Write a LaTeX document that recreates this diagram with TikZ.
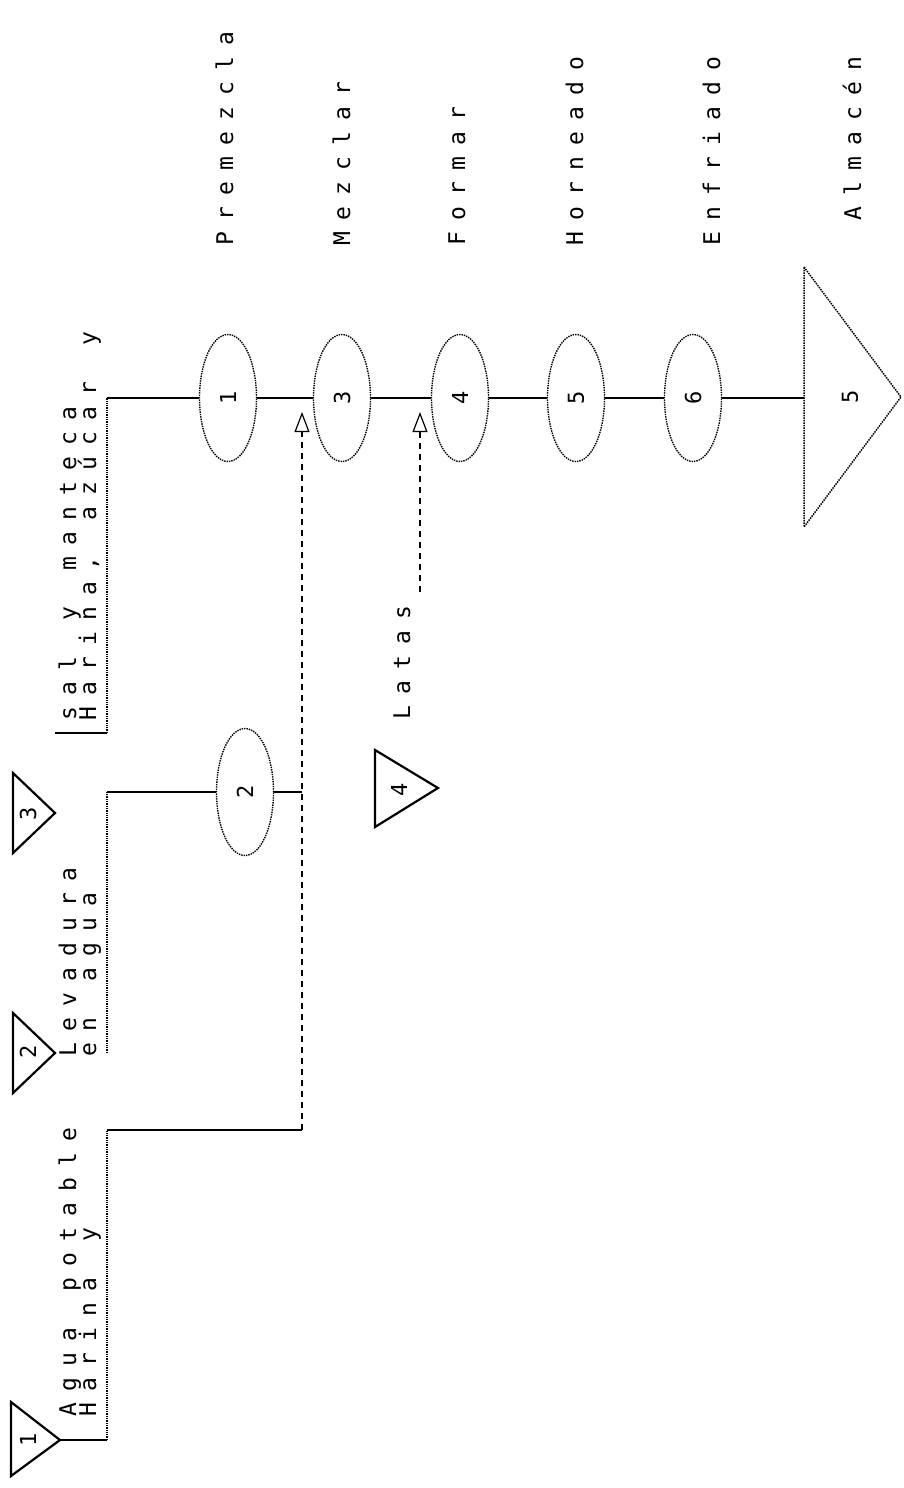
\documentclass[tikz,border=0pt]{standalone}
\usepackage{fontspec}
\usetikzlibrary{shapes.geometric,arrows.meta}
\newfontfamily\chartfont{DejaVu Sans Mono}
\newcommand\chartspaced[1]{\chartspacedi#1\relax}
\def\chartspacedi#1{\ifx#1\relax\else\makebox[25pt][c]{#1}\expandafter\chartspacedi\fi}
\tikzset{
  mainline/.style={line width=1.7pt},
  faint/.style={line width=1.3pt, densely dotted},
  dashline/.style={line width=1.2pt, dash pattern=on 6pt off 5pt},
  arr/.style={-{Triangle[open,length=20pt,width=15pt,line width=1.2pt]}},
  opnode/.style={ellipse, draw, line width=1.4pt, densely dotted, minimum width=57pt, minimum height=127pt, inner sep=0pt, font=\chartfont\fontsize{22}{22}\selectfont},
  numlbl/.style={inner sep=0pt, font=\chartfont\fontsize{22}{22}\selectfont},
  lbl/.style={rotate=90, anchor=base west, inner sep=0pt, font=\chartfont\fontsize{23}{23}\selectfont},
  tri/.style={line width=2.2pt, line join=miter},
  faintri/.style={line width=1.5pt, densely dotted}
}
\begin{document}
\begin{tikzpicture}[x=1pt,y=-1pt]
\useasboundingbox (0,0) rectangle (903,1488);
\fill[white] (0,0) rectangle (903,1488);

% operations on main line
\node[opnode] (e1) at (228,398) {\rotatebox{90}{1}};
\node[opnode] (e3) at (342,398) {\rotatebox{90}{3}};
\node[opnode] (e4) at (460,398) {\rotatebox{90}{4}};
\node[opnode] (e5) at (576,398) {\rotatebox{90}{5}};
\node[opnode] (e6) at (693,398) {\rotatebox{90}{6}};
\node[opnode] (e2) at (245,792) {\rotatebox{90}{2}};

% coordinates
\coordinate (s1) at (107,398);
\coordinate (s2) at (107,792);
\coordinate (s3) at (107,1130);
\coordinate (j2) at (302,792);
\coordinate (j3) at (302,1130);
\coordinate (a3) at (302,412);
\coordinate (a4) at (420,412);
\coordinate (la) at (420,592);
\coordinate (fA) at (55,733);
\coordinate (bA) at (107,733);
\coordinate (bB) at (107,1053);
\coordinate (bC) at (107,1440);
\coordinate (t5w) at (804,398);

% storages
\draw[tri] (11,1402) -- (60,1440) coordinate (t1) -- (11,1476) -- cycle;
\node[numlbl] (n1) at (28,1440) {\rotatebox{90}{1}};
\draw[tri] (13,1013) -- (55,1053) coordinate (t2) -- (13,1093) -- cycle;
\node[numlbl] (n2) at (28,1052) {\rotatebox{90}{2}};
\draw[tri] (13,773) -- (55,813) coordinate (t3) -- (13,853) -- cycle;
\node[numlbl] (n3) at (28,814) {\rotatebox{90}{3}};
\draw[tri] (375,750) -- (438,788) coordinate (t4) -- (375,827) -- cycle;
\node[numlbl] (n4) at (399,790) {\rotatebox{90}{4}};
\draw[faintri] (804,267) -- (901,397) coordinate (t5) -- (804,527) -- cycle;
\node[numlbl] (n5) at (850,397) {\rotatebox{90}{5}};

% main flow
\draw[mainline] (s1) -- (e1) -- (e3) -- (e4) -- (e5) -- (e6) -- (t5w);

% input A
\draw[mainline] (fA) -- (bA);
\draw[faint] (bA) -- (s1);
% input B
\draw[faint] (bB) -- (s2);
\draw[mainline] (s2) -- (e2) -- (j2);
% input C
\draw[mainline] (t1) -- (bC);
\draw[faint] (bC) -- (s3);
\draw[mainline] (s3) -- (j3);
\draw[dashline, arr] (j3) -- (a3);
% latas
\draw[dashline, arr] (la) -- (a4);

% operation labels
\node[lbl] (lpre) at (233,251) {\chartspaced{Premezcla}};
\node[lbl] (lmez) at (350,251) {\chartspaced{Mezclar}};
\node[lbl] (lfor) at (465,251) {\chartspaced{Formar}};
\node[lbl] (lhor) at (583,251) {\chartspaced{Horneado}};
\node[lbl] (lenf) at (720,251) {\chartspaced{Enfriado}};
\node[lbl] (lalm) at (861,226) {\chartspaced{Almacén}};

% material labels
\node[lbl] (mA1) at (76,726) {\chartspaced{sal~y~manteca}};
\node[lbl] (mA2) at (96,726) {\chartspaced{Harina,~azúcar~y}};
\node[lbl] (mB1) at (76,1062) {\chartspaced{Levadura}};
\node[lbl] (mB2) at (96,1062) {\chartspaced{en~agua}};
\node[lbl] (mC1) at (76,1422) {\chartspaced{Agua~potable}};
\node[lbl] (mC2) at (96,1422) {\chartspaced{Harina~y}};
\node[lbl] (lat) at (410,725) {\chartspaced{Latas}};
\end{tikzpicture}
\end{document}
